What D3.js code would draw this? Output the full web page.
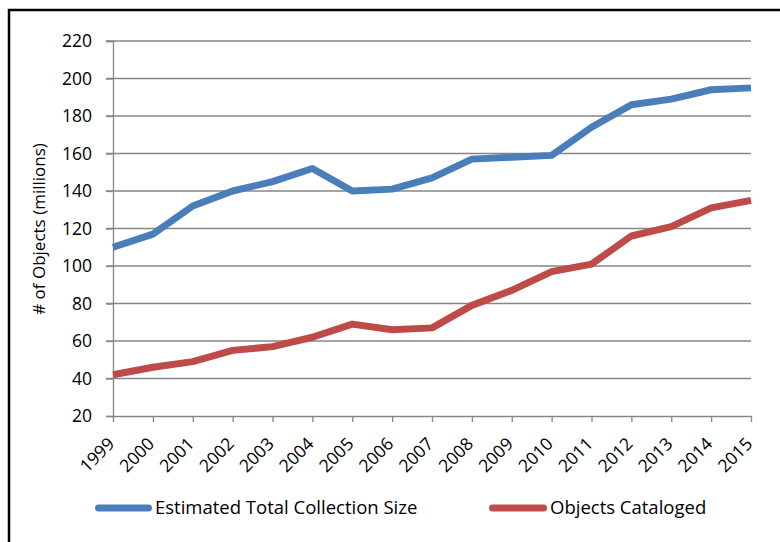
<!DOCTYPE html>
<html><head><meta charset="utf-8">
<script src="https://cdn.jsdelivr.net/npm/d3@7"></script>
<style>body{margin:0;background:#fff;}svg{display:block;font-family:"Open Sans",sans-serif;}</style>
</head><body><svg id="c" width="780" height="542"></svg>
<script>
const years = [1999,2000,2001,2002,2003,2004,2005,2006,2007,2008,2009,2010,2011,2012,2013,2014,2015];
const totalSize = [110,117,132,140,145,152,140,141,147,157,158,159,174,186,189,194,195];
const cataloged = [42,46,49,55,57,62,69,66,67,79,87,97,101,116,121,131,135];
const yTicks = [20,40,60,80,100,120,140,160,180,200,220];
const seriesNames = ["Estimated Total Collection Size","Objects Cataloged"];
const colors = ["#4a7ebb","#be4b48"];
const FF = "'Open Sans',sans-serif";
const FS = 17.5;

const svg = d3.select("#c");
svg.append("rect").attr("x",9).attr("y",10).attr("width",800).attr("height",600)
  .attr("fill","none").attr("stroke","#000").attr("stroke-width",2.5);

const x = d3.scalePoint().domain(years).range([113,751]);
const y = d3.scaleLinear().domain([20,220]).range([416,41]);

svg.append("g").selectAll("line").data(yTicks.slice(1)).join("line")
  .attr("x1",106).attr("x2",751).attr("y1",d=>y(d)).attr("y2",d=>y(d))
  .attr("stroke","#868686").attr("stroke-width",1.3);

const ya = svg.append("g").attr("transform","translate(113,0)")
  .call(d3.axisLeft(y).tickValues(yTicks).tickSize(7).tickPadding(14));
ya.select(".domain").attr("stroke","#868686").attr("stroke-width",1.3);
ya.selectAll(".tick line").attr("stroke","#868686").attr("stroke-width",1.3);
ya.selectAll("text").attr("font-size",FS).attr("fill","#000").attr("font-family",FF);

const xa = svg.append("g").attr("transform","translate(0,416)")
  .call(d3.axisBottom(x).tickSize(6).tickSizeOuter(0));
xa.select(".domain").attr("stroke","#868686").attr("stroke-width",1.3);
xa.selectAll(".tick line").attr("stroke","#868686").attr("stroke-width",1.3);
xa.selectAll("text").attr("font-size",FS).attr("fill","#000").attr("font-family",FF)
  .attr("text-anchor","end").attr("dy",null).attr("y",0)
  .attr("transform","translate(2,29) rotate(-45)");

svg.append("text").attr("transform","translate(45,229) rotate(-90)")
  .attr("text-anchor","middle").attr("font-size",17).attr("font-family",FF).text("# of Objects (millions)");

const line = d3.line().x((d,i)=>x(years[i])).y(d=>y(d));
[totalSize,cataloged].forEach((s,k)=>{
  svg.append("path").attr("d",line(s)).attr("fill","none")
    .attr("stroke",colors[k]).attr("stroke-width",7).attr("stroke-linejoin","round");
});

const lg = [{x1:98.5,x2:148.5,tx:155},{x1:492.5,x2:543.5,tx:550}];
lg.forEach((p,k)=>{
  svg.append("line").attr("x1",p.x1).attr("x2",p.x2).attr("y1",508).attr("y2",508)
    .attr("stroke",colors[k]).attr("stroke-width",7).attr("stroke-linecap","round");
  svg.append("text").attr("x",p.tx).attr("y",514).attr("font-size",18.5).attr("font-family",FF).text(seriesNames[k]);
});
</script></body></html>
